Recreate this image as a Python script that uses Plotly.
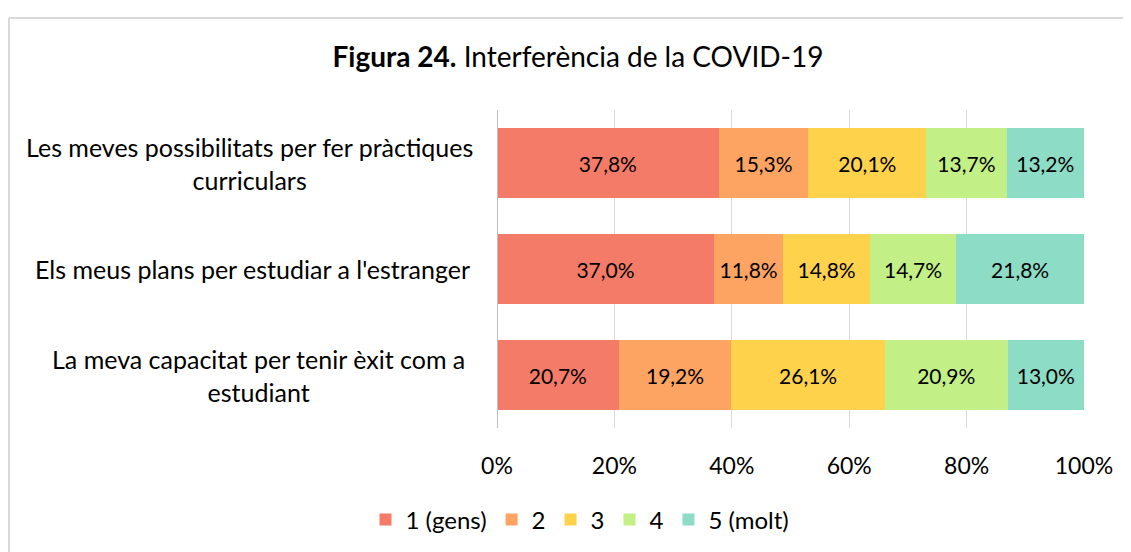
import plotly.graph_objects as go

categories = [
    "Les meves possibilitats per fer pràctiques<br>curriculars",
    "Els meus plans per estudiar a l'estranger",
    "La meva capacitat per tenir èxit com a<br>estudiant",
]
series_names = ["1 (gens)", "2", "3", "4", "5 (molt)"]
values = {
    "1 (gens)": [37.8, 37.0, 20.7],
    "2": [15.3, 11.8, 19.2],
    "3": [20.1, 14.8, 26.1],
    "4": [13.7, 14.7, 20.9],
    "5 (molt)": [13.2, 21.8, 13.0],
}
colors = ["#F47B67", "#FDA462", "#FFD24C", "#C2EF86", "#8CDCC6"]
x_ticks = [0, 20, 40, 60, 80, 100]
x_tick_labels = ["0%", "20%", "40%", "60%", "80%", "100%"]
label_centers = [249, 252, 258]  # page-pixel centres of wrapped category labels

FONT = "Lato, Calibri, sans-serif"
W, H = 1131, 552
OFF = 8  # page body margin offset
L = 497 - OFF
T = 110 - OFF
R = W - (1084 - OFF)
B = H - (428 - OFF)

pw = W - L - R
ph = H - T - B
def px_x(p):
    return (p - OFF - L) / pw
def px_y(p):
    return (H - B - (p - OFF)) / ph

fig = go.Figure()
for name, col in zip(series_names, colors):
    vals = values[name]
    fig.add_trace(go.Bar(
        y=categories, x=vals, name=name, orientation="h",
        marker=dict(color=col, line=dict(width=0)),
        text=[f"{v:.1f}%".replace(".", ",") for v in vals],
        textposition="inside", insidetextanchor="middle",
        textfont=dict(family=FONT, size=21, color="#000000"),
        hoverinfo="skip",
    ))

for c, cx in zip(categories, label_centers):
    fig.add_annotation(
        x=px_x(cx), xref="paper", y=c, yref="y",
        text=c, showarrow=False, xanchor="center", align="center",
        font=dict(family=FONT, size=25, color="#000000"),
    )

fig.add_shape(type="line", xref="paper", yref="paper",
              x0=px_x(9), x1=px_x(1150), y0=px_y(18), y1=px_y(18),
              line=dict(color="#D9D9D9", width=2))
fig.add_shape(type="line", xref="paper", yref="paper",
              x0=px_x(9), x1=px_x(9), y0=px_y(18), y1=px_y(580),
              line=dict(color="#D9D9D9", width=2))
fig.add_shape(type="line", xref="x", yref="paper", x0=0, x1=0, y0=0, y1=1,
              line=dict(color="#BFBFBF", width=2), layer="above")

fig.update_layout(
    width=W, height=H,
    margin=dict(l=L, r=R, t=T, b=B, autoexpand=False),
    barmode="stack", barnorm="percent", bargap=0.34,
    paper_bgcolor="white", plot_bgcolor="white",
    title=dict(text="<b>Figura 24.</b> Interferència de la COVID-19",
               x=(578 - OFF) / W, xanchor="center",
               y=1 - (57 - OFF) / H, yanchor="middle",
               font=dict(family=FONT, size=28, color="#000000")),
    font=dict(family=FONT, size=23, color="#000000"),
    xaxis=dict(range=[0, 100], tickvals=x_ticks, ticktext=x_tick_labels,
               showgrid=True, gridcolor="#D9D9D9", gridwidth=1,
               zeroline=False, showline=False, ticks="",
               tickfont=dict(family=FONT, size=23, color="#000000"),
               ticklabelstandoff=22, automargin=False),
    yaxis=dict(autorange="reversed", showticklabels=False, showgrid=False,
               zeroline=False, showline=False, ticks="", automargin=False),
    legend=dict(orientation="h", x=px_x(580), xanchor="center",
                y=px_y(520), yanchor="middle",
                font=dict(family=FONT, size=24, color="#000000"),
                traceorder="normal", itemwidth=30),
    showlegend=True,
)

fig.write_html("out.html")
